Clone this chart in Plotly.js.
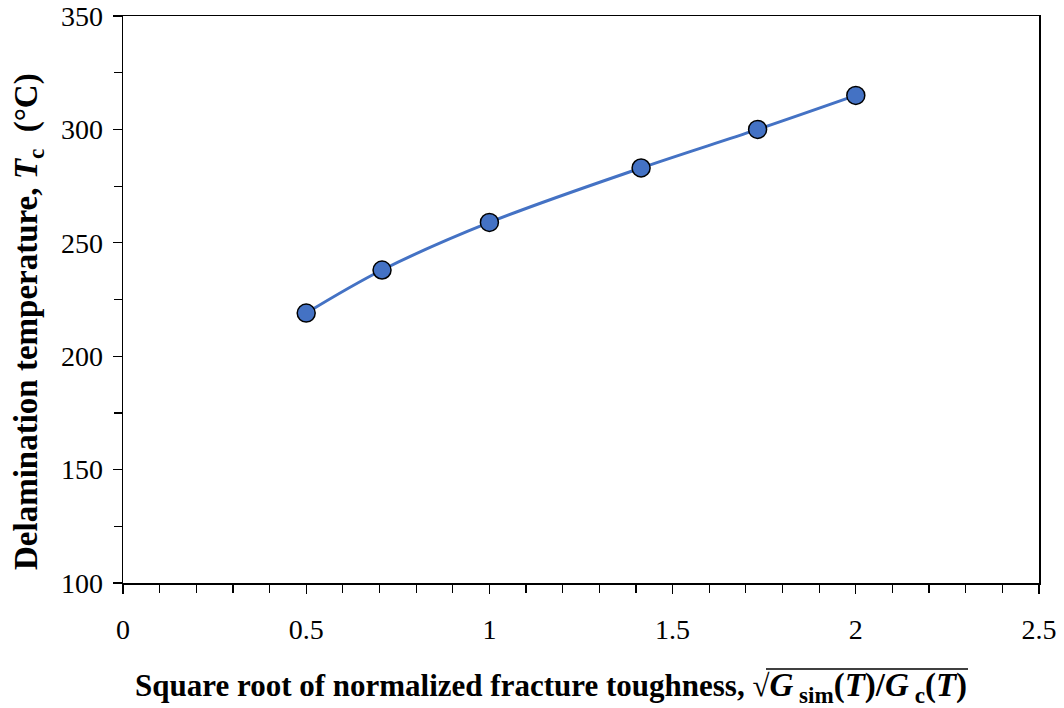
<!DOCTYPE html>
<html>
<head>
<meta charset="utf-8">
<script src="https://cdn.plot.ly/plotly-3.0.1.min.js"></script>
<style>html,body{margin:0;padding:0;background:#fff;}#chart{width:1064px;height:708px;}</style>
</head>
<body>
<div id="chart"></div>
<script>
// Data
const sqrtNormToughness = [0.5, 0.707, 1.0, 1.414, 1.732, 2.0];
const delamTemp = [219, 238, 259, 283, 300, 315];
const xTickVals = [0, 0.5, 1, 1.5, 2, 2.5];
const xTickText = ['0', '0.5', '1', '1.5', '2', '2.5'];
const yTickVals = [100, 150, 200, 250, 300, 350];
const yTickText = ['100', '150', '200', '250', '300', '350'];

const FONT = '"Liberation Serif", "Times New Roman", serif';

const trace = {
  x: sqrtNormToughness,
  y: delamTemp,
  type: 'scatter',
  mode: 'lines+markers',
  line: {shape: 'spline', smoothing: 1, color: '#4472C4', width: 3},
  marker: {size: 18, color: '#4472C4', line: {color: '#000', width: 1.5}},
  hoverinfo: 'x+y',
  showlegend: false
};

const layout = {
  width: 1064, height: 708,
  margin: {l: 123, r: 25, t: 16, b: 125},
  paper_bgcolor: '#fff', plot_bgcolor: '#fff',
  font: {family: FONT, size: 28, color: '#000'},
  xaxis: {
    range: [0, 2.5], tickvals: xTickVals, ticktext: xTickText,
    showgrid: false, zeroline: false,
    showline: true, linecolor: '#000', linewidth: 1.5, mirror: true,
    ticks: 'outside', ticklen: 9, tickwidth: 1.2, tickcolor: '#000',
    ticklabelstandoff: 12,
    minor: {dtick: 0.1, ticks: 'outside', ticklen: 8, tickwidth: 1.2, tickcolor: '#000', showgrid: false},
    tickfont: {family: FONT, size: 28}
  },
  yaxis: {
    range: [100, 350], tickvals: yTickVals, ticktext: yTickText,
    showgrid: false, zeroline: false,
    showline: true, linecolor: '#000', linewidth: 1.5, mirror: true,
    ticks: 'outside', ticklen: 9, tickwidth: 1.2, tickcolor: '#000',
    ticklabelstandoff: 4,
    minor: {dtick: 25, ticks: 'outside', ticklen: 8, tickwidth: 1.2, tickcolor: '#000', showgrid: false},
    tickfont: {family: FONT, size: 28}
  },
  annotations: [
    {
      xref: 'paper', yref: 'paper', x: (133 - 123) / 916, y: (583 - 687) / 567,
      xanchor: 'left', yanchor: 'middle', showarrow: false,
      text: '<b>Square root of normalized fracture toughness, √<span style="font-size:33px"><i>G</i><sub> sim</sub>(<i>T</i>)/<i>G</i><sub> c</sub>(<i>T</i>)</span></b>',
      font: {family: FONT, size: 31, color: '#000'}
    },
    {
      xref: 'paper', yref: 'paper', x: (28 - 123) / 916, y: (583 - 322) / 567,
      xanchor: 'center', yanchor: 'middle', showarrow: false, textangle: -90,
      text: '<b>Delamination temperature, <i>T</i><sub>c</sub>  (°C)</b>',
      font: {family: FONT, size: 33, color: '#000'}
    }
  ],
  shapes: [
    {type: 'line', xref: 'paper', yref: 'paper',
     x0: (766 - 123) / 916, x1: (968 - 123) / 916,
     y0: (583 - 669) / 567, y1: (583 - 669) / 567,
     line: {color: '#000', width: 1.5}}
  ]
};

Plotly.newPlot('chart', [trace], layout, {displayModeBar: false, staticPlot: true});
</script>
</body>
</html>
